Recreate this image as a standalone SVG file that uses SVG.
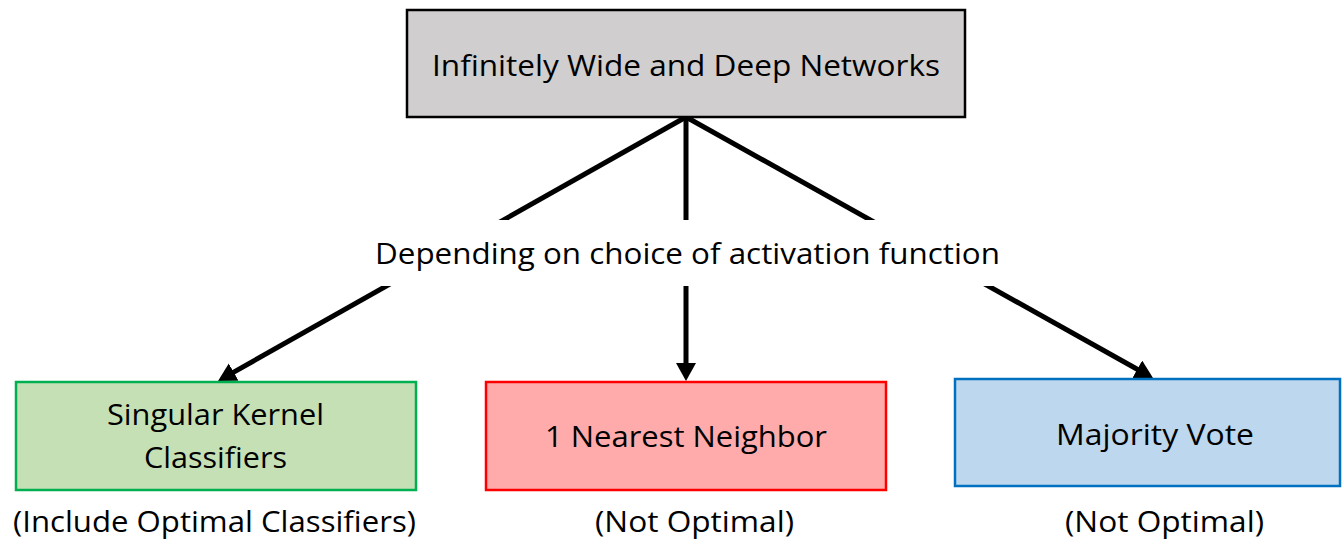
<svg xmlns="http://www.w3.org/2000/svg" width="1342" height="539" viewBox="0 0 1342 539">
  <style>
    .txt { font-family: "Open Sans", "Liberation Sans", sans-serif; font-size: 29px; fill: #000; }
    .box { stroke-width: 2.5; }
    .edge { stroke: #000; stroke-width: 5; fill: none; }
  </style>
  <defs>
    <marker id="arrow" markerUnits="userSpaceOnUse" markerWidth="20" markerHeight="22" refX="4" refY="10" orient="auto">
      <path d="M0,0 L18,10 L0,20 z" fill="#000"/>
    </marker>
  </defs>
  <rect width="1342" height="539" fill="#fff"/>

  <!-- connectors -->
  <g id="connectors">
    <line class="edge" x1="686" y1="117" x2="230.2" y2="374.1" marker-end="url(#arrow)"/>
    <line class="edge" x1="686" y1="117" x2="686" y2="367" marker-end="url(#arrow)"/>
    <line class="edge" x1="686" y1="117" x2="1140.8" y2="371.2" marker-end="url(#arrow)"/>
    <g id="edge-label">
      <rect x="362" y="220" width="650" height="66" fill="#fff"/>
      <text class="txt" x="375" y="264" textLength="625" lengthAdjust="spacingAndGlyphs">Depending on choice of activation function</text>
    </g>
  </g>

  <!-- root node -->
  <g id="node-networks">
    <rect class="box" x="407" y="10" width="558" height="107" fill="#d0cece" stroke="#000"/>
    <text class="txt" x="432" y="76" textLength="508" lengthAdjust="spacingAndGlyphs">Infinitely Wide and Deep Networks</text>
  </g>

  <!-- outcome nodes -->
  <g id="node-kernel">
    <rect class="box" x="16" y="382" width="400" height="108" fill="#c5e0b4" stroke="#00b050"/>
    <text class="txt" x="107" y="425" textLength="217" lengthAdjust="spacingAndGlyphs">Singular Kernel</text>
    <text class="txt" x="144" y="468" textLength="143" lengthAdjust="spacingAndGlyphs">Classifiers</text>
    <text class="txt" x="13" y="532" textLength="403" lengthAdjust="spacingAndGlyphs">(Include Optimal Classifiers)</text>
  </g>

  <g id="node-nn">
    <rect class="box" x="486" y="382" width="400" height="108" fill="#ffabab" stroke="#ff0000"/>
    <text class="txt" x="545" y="447" textLength="282" lengthAdjust="spacingAndGlyphs">1 Nearest Neighbor</text>
    <text class="txt" x="595" y="532" textLength="199" lengthAdjust="spacingAndGlyphs">(Not Optimal)</text>
  </g>

  <g id="node-vote">
    <rect class="box" x="955" y="379" width="385" height="107" fill="#bdd7ee" stroke="#0070c0"/>
    <text class="txt" x="1056" y="445" textLength="198" lengthAdjust="spacingAndGlyphs">Majority Vote</text>
    <text class="txt" x="1065" y="532" textLength="199" lengthAdjust="spacingAndGlyphs">(Not Optimal)</text>
  </g>
</svg>
